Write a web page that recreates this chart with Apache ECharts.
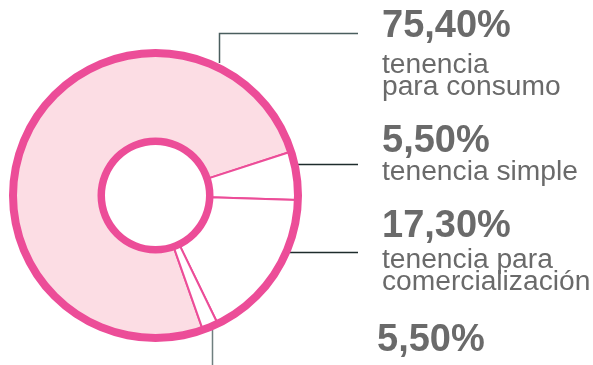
<!DOCTYPE html>
<html>
<head>
<meta charset="utf-8">
<script src="https://cdn.jsdelivr.net/npm/echarts@6/dist/echarts.min.js"></script>
<style>
html,body{margin:0;padding:0;background:#fff;}
#chart{width:593px;height:365px;}
</style>
</head>
<body>
<div id="chart"></div>
<script>
// Data
const categories = ['tenencia para consumo', 'tenencia simple', 'tenencia para comercialización', 'otros'];
const sliceValues = [75.4, 5.5, 17.3, 1.8];
const percentLabels = ['75,40%', '5,50%', '17,30%', '5,50%'];
const descLines = [['tenencia', 'para consumo'], ['tenencia simple'], ['tenencia para', 'comercialización'], []];

const PINK = '#ec4d98';
const LIGHT = '#fcdde4';
const TEXT = '#6a6a6a';
const fills = [LIGHT, '#ffffff', '#ffffff', '#ffffff'];

const cx = 155.5, cy = 195.5;

const chart = echarts.init(document.getElementById('chart'), null, {renderer: 'canvas'});

// label layout (baselines in px)
const blocks = [
  {x: 382, pBase: 39.5, dBase: [75, 97], line: [[219.5, 63], [219.5, 33.5], [358, 33.5]], lc: '#4a5e5e'},
  {x: 382, pBase: 155, dBase: [181.5], line: [[297, 164.5], [358, 164.5]], lc: '#1e2c2c'},
  {x: 382, pBase: 240, dBase: [270, 291.7], line: [[290, 252.5], [358, 252.5]], lc: '#1e2c2c'},
  {x: 377, pBase: 353.5, dBase: [], line: [[212.5, 330], [212.5, 366]], lc: '#6f7f7f'}
];
const PS = 38, DS = 28.2;
const graphics = [];
blocks.forEach((b, i) => {
  graphics.push({type: 'polyline', shape: {points: b.line}, style: {stroke: b.lc, lineWidth: 1.5, fill: null}, z: 1});
  graphics.push({type: 'text', x: b.x, y: b.pBase - 0.3465 * PS, style: {text: percentLabels[i], font: 'bold ' + PS + 'px "Liberation Sans", Arial, sans-serif', fill: TEXT, verticalAlign: 'middle', align: 'left'}});
  descLines[i].forEach((t, j) => {
    graphics.push({type: 'text', x: b.x, y: b.dBase[j] - 0.3465 * DS, style: {text: t, font: DS + 'px "Liberation Sans", Arial, sans-serif', fill: TEXT, verticalAlign: 'middle', align: 'left'}});
  });
});

chart.setOption({
  animation: false,
  backgroundColor: '#ffffff',
  graphic: graphics,
  series: [
    {
      type: 'pie',
      center: [cx, cy],
      radius: [54, 142],
      startAngle: 289.4,
      clockwise: true,
      silent: true,
      label: {show: false},
      labelLine: {show: false},
      itemStyle: {borderColor: PINK, borderWidth: 2},
      data: categories.map((c, i) => ({name: c, value: sliceValues[i], itemStyle: {color: fills[i]}})),
      z: 2
    },
    {
      type: 'pie', center: [cx, cy], radius: [138.5, 146.5], silent: true,
      label: {show: false}, labelLine: {show: false},
      itemStyle: {color: PINK, borderWidth: 0},
      data: [{value: 1}], z: 3
    },
    {
      type: 'pie', center: [cx, cy], radius: [50.5, 58], silent: true,
      label: {show: false}, labelLine: {show: false},
      itemStyle: {color: PINK, borderWidth: 0},
      data: [{value: 1}], z: 3
    }
  ]
});
</script>
</body>
</html>
